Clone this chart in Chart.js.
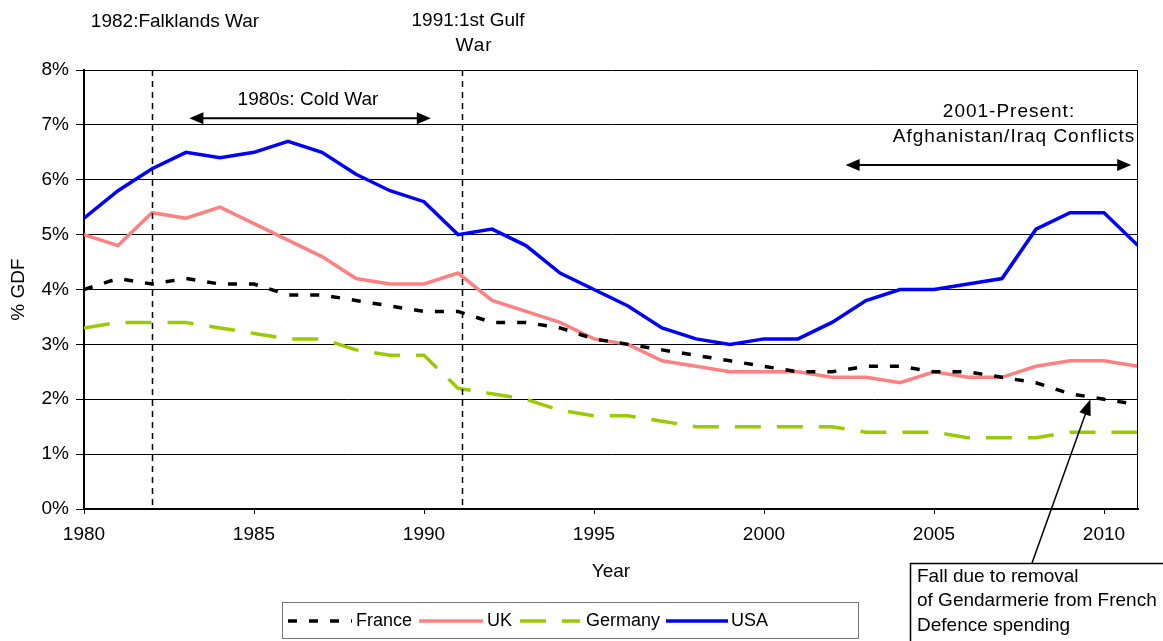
<!DOCTYPE html>
<html>
<head>
<meta charset="utf-8">
<script src="https://cdn.jsdelivr.net/npm/chart.js@4"></script>
<style>
html,body{margin:0;padding:0;background:#fff;}
canvas{display:block;}
</style>
</head>
<body>
<canvas id="c" width="1163" height="641"></canvas>
<script>
const years = [1980,1981,1982,1983,1984,1985,1986,1987,1988,1989,1990,1991,1992,1993,1994,1995,1996,1997,1998,1999,2000,2001,2002,2003,2004,2005,2006,2007,2008,2009,2010,2011];
const france  = [4.0,4.2,4.1,4.2,4.1,4.1,3.9,3.9,3.8,3.7,3.6,3.6,3.4,3.4,3.3,3.1,3.0,2.9,2.8,2.7,2.6,2.5,2.5,2.6,2.6,2.5,2.5,2.4,2.3,2.1,2.0,1.9];
const uk      = [5.0,4.8,5.4,5.3,5.5,5.2,4.9,4.6,4.2,4.1,4.1,4.3,3.8,3.6,3.4,3.1,3.0,2.7,2.6,2.5,2.5,2.5,2.4,2.4,2.3,2.5,2.4,2.4,2.6,2.7,2.7,2.6];
const germany = [3.3,3.4,3.4,3.4,3.3,3.2,3.1,3.1,2.9,2.8,2.8,2.2,2.1,2.0,1.8,1.7,1.7,1.6,1.5,1.5,1.5,1.5,1.5,1.4,1.4,1.4,1.3,1.3,1.3,1.4,1.4,1.4];
const usa     = [5.3,5.8,6.2,6.5,6.4,6.5,6.7,6.5,6.1,5.8,5.6,5.0,5.1,4.8,4.3,4.0,3.7,3.3,3.1,3.0,3.1,3.1,3.4,3.8,4.0,4.0,4.1,4.2,5.1,5.4,5.4,4.8];
const xTickLabels = [1980,1985,1990,1995,2000,2005,2010];
const yTickLabels = [0,1,2,3,4,5,6,7,8];
const seriesNames = ['France','UK','Germany','USA'];
const eventYears = [1982,1991];

const FONT = '"Liberation Sans", Arial, sans-serif';
const pts = arr => arr.map((v,i)=>({x:years[i], y:v}));

function arrowHead(ctx, x1, y1, x2, y2, len, wid){
  const a = Math.atan2(y2-y1, x2-x1);
  ctx.beginPath();
  ctx.moveTo(x2,y2);
  ctx.lineTo(x2 - len*Math.cos(a) + wid*Math.sin(a), y2 - len*Math.sin(a) - wid*Math.cos(a));
  ctx.lineTo(x2 - len*Math.cos(a) - wid*Math.sin(a), y2 - len*Math.sin(a) + wid*Math.cos(a));
  ctx.closePath();
  ctx.fill();
}
function dblArrow(ctx, x1, x2, y){
  ctx.save();
  ctx.strokeStyle='#000'; ctx.fillStyle='#000'; ctx.lineWidth=2; ctx.setLineDash([]);
  ctx.beginPath(); ctx.moveTo(x1+10,y); ctx.lineTo(x2-10,y); ctx.stroke();
  arrowHead(ctx, x2-20, y, x1, y, 14, 6);
  arrowHead(ctx, x1+20, y, x2, y, 14, 6);
  ctx.restore();
}

const annot = {
  id:'annot',
  beforeDraw(chart){
    const ctx = chart.ctx;
    ctx.save(); ctx.fillStyle='#fff'; ctx.fillRect(0,0,chart.width,chart.height); ctx.restore();
  },
  afterDraw(chart){
    const ctx = chart.ctx, xs = chart.scales.x, ys = chart.scales.y, ca = chart.chartArea;
    ctx.save();
    // right border
    ctx.strokeStyle='#000'; ctx.lineWidth=1;
    ctx.beginPath(); ctx.moveTo(ca.right-0.5, ca.top); ctx.lineTo(ca.right-0.5, ca.bottom); ctx.stroke();
    // event lines
    const lineShift = [0, 4];
    ctx.setLineDash([6,5]); ctx.lineWidth=1.5;
    eventYears.forEach((yr,i)=>{
      const x = Math.round(xs.getPixelForValue(yr))+lineShift[i]+0.5;
      ctx.beginPath(); ctx.moveTo(x, ca.top); ctx.lineTo(x, ca.bottom); ctx.stroke();
    });
    ctx.setLineDash([]);
    ctx.fillStyle='#000';
    ctx.font = '19px '+FONT;
    ctx.textAlign='center'; ctx.textBaseline='middle';
    ctx.fillText('1982:Falklands War', 175, 22);
    ctx.fillText('1991:1st Gulf', 468, 21);
    ctx.fillText('1980s: Cold War', 308, 100);
    ctx.save();
    ctx.letterSpacing = '1px';
    ctx.fillText('2001-Present:', 1009, 112);
    ctx.fillText('Afghanistan/Iraq Conflicts', 1014, 137);
    ctx.fillText('War', 474, 46);
    ctx.restore();
    dblArrow(ctx, xs.getPixelForValue(1983.1), xs.getPixelForValue(1990.2), ys.getPixelForValue(7.12));
    dblArrow(ctx, xs.getPixelForValue(2002.4), xs.getPixelForValue(2010.8), ys.getPixelForValue(6.27));
    // annotation box
    ctx.lineWidth=1.5; ctx.strokeStyle='#000';
    ctx.strokeRect(910.5, 563.5, 270, 100);
    ctx.textAlign='left';
    ctx.fillText('Fall due to removal', 917, 577);
    ctx.fillText('of Gendarmerie from French', 917, 601);
    ctx.fillText('Defence spending', 917, 626);
    // pointer arrow
    const tx = xs.getPixelForValue(2009.6), ty = ys.getPixelForValue(2.0);
    ctx.lineWidth=1.5;
    ctx.beginPath(); ctx.moveTo(1032, 563); ctx.lineTo(tx-4, ty+12); ctx.stroke();
    arrowHead(ctx, 1032, 563, tx, ty, 16, 6);
    // legend
    const lx=282, ly=602, lw=576, lh=36;
    ctx.lineWidth=1; ctx.strokeStyle='#777';
    ctx.strokeRect(lx+0.5, ly+0.5, lw, lh);
    const cy = ly+lh/2+1;
    const items = [
      {ds:0, x1:288, x2:352, tx:356},
      {ds:1, x1:419, x2:483, tx:487},
      {ds:2, x1:520, x2:580, tx:586},
      {ds:3, x1:666, x2:728, tx:731}
    ];
    ctx.font = '18px '+FONT;
    items.forEach(it=>{
      const d = chart.data.datasets[it.ds];
      ctx.save();
      ctx.strokeStyle=d.borderColor; ctx.lineWidth=d.borderWidth; ctx.setLineDash(d.borderDash||[]);
      ctx.beginPath(); ctx.moveTo(it.x1, cy); ctx.lineTo(it.x2, cy); ctx.stroke();
      ctx.restore();
      ctx.fillStyle='#000'; ctx.textAlign='left'; ctx.textBaseline='middle';
      ctx.fillText(d.label, it.tx, cy);
    });
    ctx.restore();
  }
};

new Chart(document.getElementById('c'), {
  type:'line',
  data:{
    datasets:[
      {label:seriesNames[0], data:pts(france), borderColor:'#000000', borderWidth:3.5, borderDash:[9,12], order:1},
      {label:seriesNames[1], data:pts(uk), borderColor:'#ff8080', borderWidth:3.5, order:3},
      {label:seriesNames[2], data:pts(germany), borderColor:'#99cc00', borderWidth:3.5, borderDash:[26,16], order:2},
      {label:seriesNames[3], data:pts(usa), borderColor:'#0000ff', borderWidth:3.5, order:0}
    ]
  },
  options:{
    responsive:false,
    animation:false,
    events:[],
    layout:{padding:{top:70, right:25, left:0, bottom:0}},
    elements:{point:{radius:0}, line:{tension:0, borderCapStyle:'butt', borderJoinStyle:'miter'}},
    plugins:{legend:{display:false}, tooltip:{enabled:false}},
    scales:{
      x:{
        type:'linear', min:1980, max:2011,
        afterBuildTicks(s){ s.ticks = xTickLabels.map(v=>({value:v})); },
        afterFit(s){ s.height = 132; },
        grid:{drawOnChartArea:false, drawTicks:true, tickLength:5, color:'#000', lineWidth:1},
        border:{display:true, color:'#000', width:2},
        ticks:{color:'#000', padding:9, maxRotation:0, font:{family:FONT, size:19}, callback:v=>String(v)},
        title:{display:true, text:'Year', color:'#000', font:{family:FONT, size:19}, padding:{top:0,bottom:58}}
      },
      y:{
        min:0, max:8,
        afterBuildTicks(s){ s.ticks = yTickLabels.map(v=>({value:v})); },
        afterFit(s){ s.width = 84; },
        grid:{color:'#000', lineWidth:1, tickLength:8, drawTicks:true},
        border:{display:true, color:'#000', width:2},
        ticks:{color:'#000', padding:7, font:{family:FONT, size:19}, callback:v=>v+'%'},
        title:{display:true, text:'% GDF', color:'#000', font:{family:FONT, size:19}, padding:{top:7,bottom:0}}
      }
    }
  },
  plugins:[annot]
});
</script>
</body>
</html>
